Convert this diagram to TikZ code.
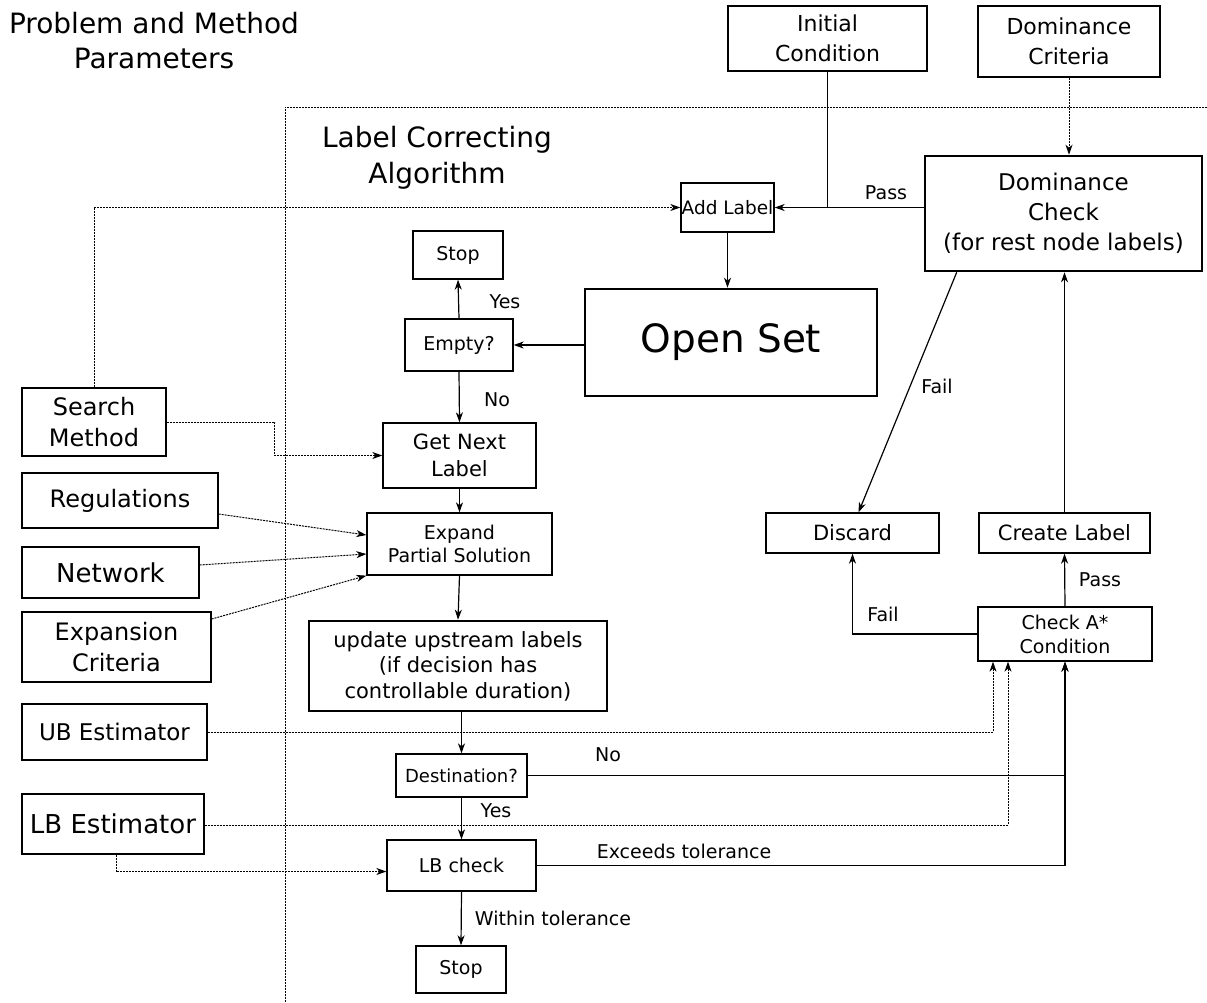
\documentclass[tikz,border=0pt]{standalone}
\usepackage{fontspec}
\setmainfont{DejaVu Sans}
\usetikzlibrary{arrows.meta,calc}
\newcommand{\fsz}[2]{\fontsize{#1}{#2}\selectfont}

\begin{document}
\begin{tikzpicture}[x=1pt,y=-1pt,>={Stealth[length=10pt,width=7pt,inset=3pt]},line width=1.2pt,
  box/.style={draw,line width=1.3pt,align=center,inner sep=0pt,font=\fsz{21}{26}},
  thickbox/.style={box,line width=2.6pt},
  lbl/.style={font=\fsz{19}{22}},
  title/.style={align=center,font=\fsz{28}{35}},
  dots/.style={dash pattern=on 2pt off 1pt,line width=1pt},
  arr/.style={->,line width=1.2pt},
  dotarr/.style={->,dots}]
\useasboundingbox (0,0) rectangle (1207,1002);

% regions
\draw[dots] (285,1002) -- (285,107) -- (1207,107);
\node[title] (ptitle) at (154,41) {Problem and Method\\Parameters};
\node[title,font=\fsz{28}{36}] (lctitle) at (437,158) {Label Correcting\\Algorithm};

% parameter boxes
\foreach \nm/\cx/\cy/\w/\h/\fs/\txt in {
  search/94/422/144/68/24/{Search\\Method},
  regs/120/500.5/196/55/24/{Regulations},
  network/110.5/572.5/177/51/26/{Network},
  expcrit/116.5/647/189/70/24/{Expansion\\Criteria},
  ubest/114.5/732/185/56/23/{UB Estimator},
  lbest/113/824/182/60/26/{LB Estimator}}
  \node[box,minimum width=\w pt,minimum height=\h pt,font=\fsz{\fs}{31}] (\nm) at (\cx,\cy) {\txt};
\node[thickbox,minimum width=199pt,minimum height=65pt,font=\fsz{22}{30}] (init) at (827.5,38.5) {Initial\\Condition};
\node[box,minimum width=182pt,minimum height=71pt,font=\fsz{22}{30}] (domcrit) at (1069,41.5) {Dominance\\Criteria};

% algorithm
\node[box,minimum width=93pt,minimum height=49pt,font=\fsz{18.5}{22}] (addlab) at (727.5,207.5) {Add Label};
\node[thickbox,minimum width=277pt,minimum height=115pt,font=\fsz{23}{30}] (domchk) at (1063.5,213.5) {Dominance\\Check\\(for rest node labels)};
\node[box,minimum width=90pt,minimum height=48pt,font=\fsz{19}{22}] (stopA) at (458,255) {Stop};
\node[box,minimum width=108pt,minimum height=52pt,font=\fsz{19}{22}] (empty) at (459,345) {Empty?};
\node[thickbox,minimum width=292pt,minimum height=107pt,font=\fsz{39}{44}] (openset) at (731,342.5) {Open Set};
\node[box,minimum width=153pt,minimum height=65pt,font=\fsz{21}{27}] (getnext) at (459.5,455.5) {Get Next\\Label};
\node[box,minimum width=185pt,minimum height=62pt,font=\fsz{19}{23}] (expand) at (459.5,544) {Expand\\Partial Solution};
\node[thickbox,minimum width=298pt,minimum height=90pt,font=\fsz{21}{25.5}] (update) at (458,666) {update upstream labels\\(if decision has\\controllable duration)};
\node[box,minimum width=131pt,minimum height=43pt,font=\fsz{18}{22}] (dest) at (461.5,775.5) {Destination?};
\node[box,minimum width=149pt,minimum height=51pt,font=\fsz{19}{22}] (lbchk) at (461.5,865.5) {LB check};
\node[box,minimum width=90pt,minimum height=47pt,font=\fsz{19}{22}] (stopB) at (461,969.5) {Stop};
\node[box,minimum width=173pt,minimum height=40pt] (discard) at (852.5,533) {Discard};
\node[box,minimum width=171pt,minimum height=40pt] (create) at (1064.5,533) {Create Label};
\node[box,minimum width=174pt,minimum height=54pt,font=\fsz{19}{24}] (checka) at (1065,634) {Check A*\\Condition};

% solid flow
\draw (init.south) -- (init.south |- addlab.east);
\draw[arr] (addlab -| domchk.west) -- (addlab.east);
\draw[arr] (addlab.south) -- (addlab.south |- openset.north);
\draw[arr] (openset.west |- empty) -- (empty.east);
\draw[arr] (empty.north) -- (stopA.south);
\draw[arr] (empty.south) -- (getnext.north);
\draw[arr] (getnext.south) -- (expand.north);
\draw[arr] (expand.south) -- (update.north);
\draw[arr] (dest.north |- update.south) -- (dest.north);
\draw[arr] (dest.south) -- (lbchk.north);
\draw[arr] (lbchk.south) -- (stopB.north);
\draw[arr] (dest.east) -| (checka.south);
\draw[arr] (lbchk.east) -| (checka.south);
\draw[arr] (checka.north) -- (create.south);
\draw[arr] (checka.west) -| (discard.south);
\draw[arr] (create.north) -- (create.north |- domchk.south);
\draw[arr] ([xshift=33pt]domchk.south west) -- ([xshift=6pt]discard.north);

% parameter inputs
\draw[dotarr] (domcrit.south) -- (domcrit.south |- domchk.north);
\draw[dotarr] (search.north) |- (addlab.west);
\draw[dotarr] (search.east) -- ++(108,0) |- (getnext.west);
\draw[dotarr] ([yshift=-13.5pt]regs.east) -- ([yshift=9pt]expand.west);
\draw[dotarr] ([yshift=7.5pt]network.east) -- ([yshift=-10pt]expand.west);
\draw[dotarr] ([yshift=28pt]expcrit.east) -- (expand.south west);
\draw[dotarr] (ubest.east) -| ([xshift=-72pt]checka.south);
\draw[dotarr] ([yshift=-1pt]lbest.east) -| ([xshift=-57pt]checka.south);
\draw[dotarr] ([xshift=3pt]lbest.south) |- ([yshift=-6pt]lbchk.west);

% edge texts
\node[lbl] (passA) at (886,193) {Pass};
\node[lbl] (yesA) at (505,302) {Yes};
\node[lbl] (noA) at (497,400) {No};
\node[lbl] (noB) at (608,755) {No};
\node[lbl] (yesB) at (496,811) {Yes};
\node[lbl] (exceeds) at (684,851) {Exceeds tolerance};
\node[lbl] (within) at (553,918) {Within tolerance};
\node[lbl] (failA) at (937,386) {Fail};
\node[lbl] (failB) at (883,614) {Fail};
\node[lbl] (passB) at (1100,580) {Pass};
\end{tikzpicture}
\end{document}
